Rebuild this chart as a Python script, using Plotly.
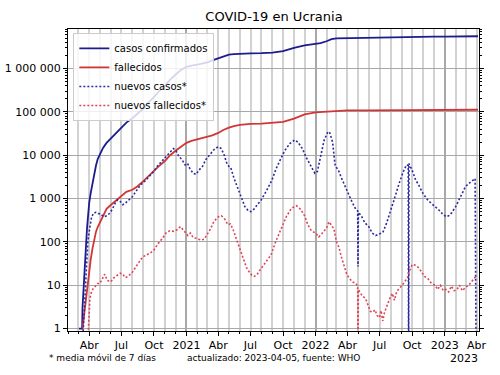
import plotly.graph_objects as go

# ---------------- data ----------------
cases_dates = ["2020-03-03","2020-03-12","2020-03-13","2020-03-16","2020-03-18","2020-03-20","2020-03-23",
    "2020-03-26","2020-03-29","2020-04-01","2020-04-05","2020-04-10","2020-04-15","2020-04-20","2020-04-25",
    "2020-05-01","2020-05-10","2020-05-20","2020-06-01","2020-06-15","2020-07-01","2020-07-15","2020-08-01",
    "2020-08-15","2020-09-01","2020-09-15","2020-10-01","2020-10-15","2020-11-01","2020-11-15","2020-12-01",
    "2020-12-15","2021-01-01","2021-01-15","2021-02-01","2021-02-15","2021-03-01","2021-03-15","2021-04-01",
    "2021-04-15","2021-05-01","2021-05-15","2021-06-01","2021-07-01","2021-08-01","2021-09-01","2021-10-01",
    "2021-11-01","2021-12-01","2022-01-01","2022-01-15","2022-02-01","2022-02-15","2022-03-01","2022-04-01",
    "2022-06-01","2022-08-01","2022-09-01","2022-10-01","2022-11-01","2022-12-01","2023-01-01","2023-03-01",
    "2023-04-05"]
cases_total = [1,1,3,7,16,29,84,218,480,804,1319,2203,3764,5710,8125,10406,14710,19230,24340,31810,44998,
    56455,71056,88187,119074,163507,217661,297600,395400,543700,732625,905000,1086997,1167000,1219455,1293000,
    1386000,1530000,1727000,1930000,2088000,2150000,2212000,2237000,2254000,2318000,2500000,3000000,3400000,
    3680000,3860000,4240000,4750000,4950000,5020000,5060000,5100000,5170000,5300000,5380000,5420000,5440000,
    5480000,5530000]

deaths_dates = ["2020-03-13","2020-03-17","2020-03-20","2020-03-24","2020-03-27","2020-04-01","2020-04-05",
    "2020-04-10","2020-04-15","2020-04-20","2020-04-25","2020-05-01","2020-05-10","2020-05-20","2020-06-01",
    "2020-06-15","2020-07-01","2020-07-15","2020-08-01","2020-08-15","2020-09-01","2020-09-15","2020-10-01",
    "2020-10-15","2020-11-01","2020-11-15","2020-12-01","2020-12-15","2021-01-01","2021-01-15","2021-02-01",
    "2021-02-15","2021-03-01","2021-03-15","2021-04-01","2021-04-15","2021-05-01","2021-05-15","2021-06-01",
    "2021-07-01","2021-08-01","2021-09-01","2021-10-01","2021-11-01","2021-12-01","2022-01-01","2022-02-01",
    "2022-03-01","2022-04-01","2022-06-01","2022-09-01","2022-10-01","2022-12-01","2023-04-05"]
deaths_total = [1,2,3,5,9,20,38,69,120,170,220,280,400,580,710,880,1159,1424,1590,1900,2530,3280,4240,5600,
    7330,9850,12600,15600,19300,21300,23100,24700,26300,28500,32600,38000,43000,47000,49800,52700,53600,55000,
    58500,70000,87000,97000,101500,106000,107500,108500,109000,109600,110300,111500]

new_cases_dates = ["2020-03-12","2020-03-16","2020-03-20","2020-03-24","2020-03-28","2020-04-02","2020-04-08",
    "2020-04-14","2020-04-20","2020-04-26","2020-05-03","2020-05-12","2020-05-20","2020-05-28","2020-06-05",
    "2020-06-14","2020-06-20","2020-06-28","2020-07-05","2020-07-12","2020-07-20","2020-08-01","2020-08-12",
    "2020-08-25","2020-09-05","2020-09-15","2020-09-28","2020-10-10","2020-10-22","2020-11-01","2020-11-10",
    "2020-11-18","2020-11-25","2020-12-02","2020-12-10","2020-12-20","2020-12-28","2021-01-04","2021-01-10",
    "2021-01-20","2021-01-28","2021-02-05","2021-02-15","2021-02-25","2021-03-08","2021-03-20","2021-03-31",
    "2021-04-08","2021-04-16","2021-04-25","2021-05-01","2021-05-06","2021-05-15","2021-05-25","2021-06-05",
    "2021-06-15","2021-06-25","2021-07-02","2021-07-10","2021-07-20","2021-08-01","2021-08-15","2021-08-30",
    "2021-09-12","2021-09-25","2021-10-05","2021-10-20","2021-11-03","2021-11-12","2021-11-25","2021-12-05",
    "2021-12-18","2021-12-30","2022-01-06","2022-01-15","2022-01-25","2022-02-05","2022-02-10","2022-02-18",
    "2022-02-25","2022-03-01","2022-03-06","2022-03-15","2022-03-25","2022-04-05","2022-04-15","2022-04-25",
    "2022-04-30","2022-05-01","2022-05-02","2022-05-10","2022-05-20","2022-06-01","2022-06-10","2022-06-20",
    "2022-07-01","2022-07-10","2022-07-20","2022-08-01","2022-08-12","2022-08-25","2022-09-05","2022-09-15",
    "2022-09-20","2022-09-21","2022-09-22","2022-10-01","2022-10-10","2022-10-20","2022-11-01","2022-11-15",
    "2022-12-01","2022-12-15","2022-12-25","2023-01-05","2023-01-12","2023-01-20","2023-02-01","2023-02-15",
    "2023-03-01","2023-03-15","2023-03-28","2023-03-31"]
new_cases = [0.3,1.5,8,30,100,200,380,470,480,450,440,380,400,450,560,800,930,850,720,780,900,1100,1500,2100,
    2500,3000,4000,5500,7000,8500,10500,12500,14200,12800,9500,7700,6000,6500,5000,3800,3600,4500,5500,8000,
    10500,13500,15600,14500,11000,6500,5500,5200,3000,1800,1000,650,520,500,560,700,950,1500,2600,5000,8500,
    12500,18500,22500,20000,14000,9000,5500,3800,4200,8500,22000,35000,33000,20000,6000,5200,4600,3000,1900,
    1200,800,560,520,27,480,400,280,220,160,140,150,165,260,500,1000,2200,4000,6000,5800,0.1,6400,4500,2800,
    2000,1300,900,700,550,450,380,400,460,650,1100,1900,2400,2900,0.1]

new_deaths_dates = ["2020-03-28","2020-03-31","2020-04-03","2020-04-08","2020-04-15","2020-04-25","2020-05-01",
    "2020-05-08","2020-05-15","2020-05-22","2020-06-01","2020-06-10","2020-06-20","2020-06-28","2020-07-05",
    "2020-07-12","2020-07-20","2020-08-01","2020-08-10","2020-08-20","2020-08-30","2020-09-10","2020-09-20",
    "2020-10-01","2020-10-12","2020-10-25","2020-11-05","2020-11-15","2020-11-25","2020-12-05","2020-12-15",
    "2020-12-25","2021-01-05","2021-01-12","2021-01-20","2021-02-01","2021-02-10","2021-02-20","2021-03-01",
    "2021-03-10","2021-03-20","2021-04-01","2021-04-10","2021-04-20","2021-04-28","2021-05-05","2021-05-12",
    "2021-05-20","2021-06-01","2021-06-10","2021-06-20","2021-06-28","2021-07-05","2021-07-12","2021-07-20",
    "2021-08-01","2021-08-15","2021-08-28","2021-09-10","2021-09-25","2021-10-10","2021-10-25","2021-11-08",
    "2021-11-20","2021-12-01","2021-12-10","2021-12-20","2022-01-01","2022-01-10","2022-01-20","2022-02-01",
    "2022-02-08","2022-02-15","2022-02-22","2022-03-01","2022-03-08","2022-03-15","2022-03-22","2022-03-29",
    "2022-04-05","2022-04-15","2022-04-25","2022-04-30","2022-05-01","2022-05-02","2022-05-08","2022-05-15",
    "2022-05-22","2022-05-29","2022-06-05","2022-06-12","2022-06-18","2022-06-24","2022-07-01","2022-07-05",
    "2022-07-10","2022-07-15","2022-07-22","2022-07-30","2022-08-06","2022-08-12","2022-08-18","2022-08-25",
    "2022-09-01","2022-09-10","2022-09-18","2022-09-24","2022-10-01","2022-10-10","2022-10-20","2022-10-28",
    "2022-11-05","2022-11-15","2022-11-25","2022-12-05","2022-12-12","2022-12-20","2022-12-28","2023-01-05",
    "2023-01-12","2023-01-20","2023-01-28","2023-02-05","2023-02-12","2023-02-20","2023-03-01","2023-03-10",
    "2023-03-20","2023-03-30"]
new_deaths = [0.5,1.5,5,7.5,9,11,11,14,18,13,12,15,17,19,18,15,16,20,26,35,45,50,55,65,90,120,165,180,175,190,
    225,180,140,160,125,120,110,115,150,200,300,380,400,330,250,260,200,130,70,40,25,20,17,16,18,25,35,50,100,
    200,380,600,680,560,400,250,180,160,130,160,210,290,240,200,100,75,45,30,19,15,12,11,9.5,0.1,8,6.5,5.5,5,
    3.5,2.5,2.4,2.7,2,1.8,2.6,1.5,2.4,3.5,5,6.5,4.5,7,8.5,9.5,12,15,22,30,29,25,20,16,14,11,10,8,10,7.5,8,7,
    9.5,7.5,8,10,7.5,9,10,13,16]

x_tick_vals = ["2020-04-01","2020-07-01","2020-10-01","2021-01-01","2021-04-01","2021-07-01","2021-10-01",
    "2022-01-01","2022-04-01","2022-07-01","2022-10-01","2023-01-01","2023-04-01"]
x_tick_text = ["Abr","Jul","Oct","2021","Abr","Jul","Oct","2022","Abr","Jul","Oct","2023","Abr"]
year_vals = ["2021-01-01","2022-01-01","2023-01-01"]
month_vals = [f"{y}-{m:02d}-01" for y in (2020, 2021, 2022, 2023) for m in range(1, 13)
              if "2020-02-01" <= f"{y}-{m:02d}-01" <= "2023-04-01"]
y_tick_vals = [1, 10, 100, 1000, 10000, 100000, 1000000]
y_tick_text = ["1", "10", "100", "1 000", "10 000", "100 000", "1 000 000"]
y_minor_vals = [m * 10 ** k for k in range(0, 7) for m in range(2, 10)]

BLUE = "#1c1c8c"
RED = "#d23535"
FONT = "DejaVu Sans"

fig = go.Figure()
fig.add_trace(go.Scatter(x=cases_dates, y=cases_total, mode="lines", name="casos confirmados",
                         line=dict(color=BLUE, width=1.8)))
fig.add_trace(go.Scatter(x=deaths_dates, y=deaths_total, mode="lines", name="fallecidos",
                         line=dict(color=RED, width=1.8)))
fig.add_trace(go.Scatter(x=new_cases_dates, y=new_cases, mode="lines", name="nuevos casos*",
                         line=dict(color="#2a2aa0", width=1.6, dash="2px,2px")))
fig.add_trace(go.Scatter(x=new_deaths_dates, y=new_deaths, mode="lines", name="nuevos fallecidos*",
                         line=dict(color="#e04455", width=1.6, dash="2px,2px")))
# overlay axis for darker year gridlines
fig.add_trace(go.Scatter(x=year_vals, y=[1, 1, 1], xaxis="x2", mode="lines",
                         line=dict(width=0), showlegend=False, hoverinfo="skip"))

xrange = ["2020-02-01", "2023-04-08"]
fig.update_layout(
    width=500, height=375,
    margin=dict(l=68, r=21, t=29, b=44, autoexpand=False),
    paper_bgcolor="white", plot_bgcolor="white",
    font=dict(family=FONT, size=11, color="black"),
    title=dict(text="COVID-19 en Ucrania", x=0.548, xanchor="center", y=0.957, yanchor="middle",
               font=dict(size=13, family=FONT, color="black")),
    xaxis=dict(type="date", range=xrange, tickmode="array", tickvals=x_tick_vals, ticktext=x_tick_text,
               ticks="outside", ticklen=4, tickcolor="black", showline=True, linecolor="black",
               linewidth=1, mirror=True, showgrid=True, gridcolor="#d2d2d2", gridwidth=1.5,
               minor=dict(tickmode="array", tickvals=month_vals, ticks="outside", ticklen=2,
                          tickcolor="black", showgrid=True, gridcolor="#d2d2d2", gridwidth=1.5),
               tickfont=dict(size=11), zeroline=False),
    xaxis2=dict(type="date", range=xrange, overlaying="x", tickmode="array", tickvals=year_vals,
                showticklabels=False, ticks="", showgrid=True, gridcolor="#a8a8a8", gridwidth=1.5,
                showline=False, zeroline=False, side="bottom"),
    yaxis=dict(type="log", range=[-0.055, 6.91], tickmode="array", tickvals=y_tick_vals,
               ticktext=y_tick_text, ticks="outside", ticklen=4, tickcolor="black",
               showline=True, linecolor="black", linewidth=1, mirror="ticks",
               showgrid=True, gridcolor="#a8a8a8", gridwidth=1.2,
               minor=dict(tickmode="array", tickvals=y_minor_vals, ticks="outside", ticklen=2,
                          tickcolor="black", showgrid=False),
               tickfont=dict(size=11), zeroline=False),
    legend=dict(x=0.013, y=0.987, xanchor="left", yanchor="top", bgcolor="rgba(255,255,255,0.82)",
                bordercolor="#cccccc", borderwidth=1, font=dict(size=10, family=FONT, color="black"),
                itemwidth=30, tracegroupgap=0),
    showlegend=True,
)

fig.add_annotation(text="* media móvil de 7 días", xref="paper", yref="paper", x=-0.05, y=-0.09,
                   xanchor="left", yanchor="middle", showarrow=False, font=dict(size=9, family=FONT))
fig.add_annotation(text="actualizado: 2023-04-05, fuente: WHO", xref="paper", yref="paper", x=0.285,
                   y=-0.09, xanchor="left", yanchor="middle", showarrow=False, font=dict(size=9, family=FONT))
fig.add_annotation(text="2023", xref="paper", yref="paper", x=1.003, y=-0.09, xanchor="right",
                   yanchor="middle", showarrow=False, font=dict(size=11, family=FONT))

fig.write_html("out.html", config={"displayModeBar": False},
               post_script="document.body.style.margin='0';document.body.style.overflow='hidden';")
